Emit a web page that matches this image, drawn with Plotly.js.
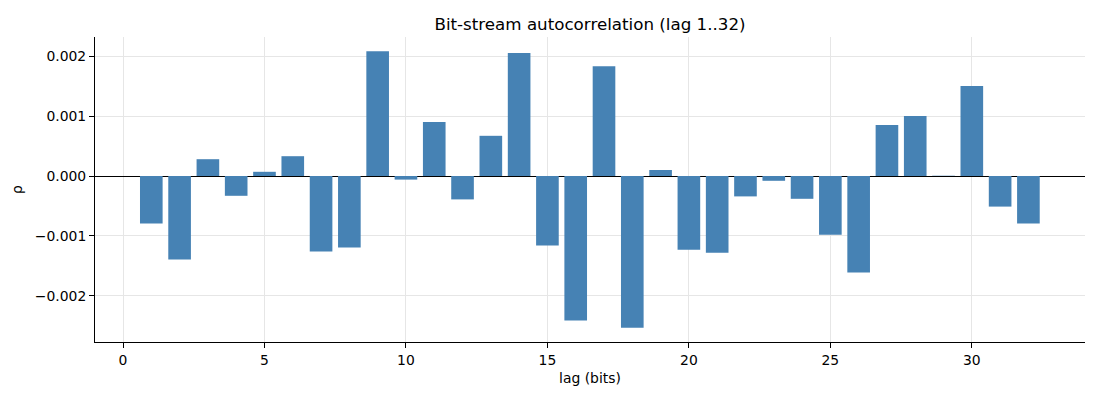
<!DOCTYPE html>
<html>
<head>
<meta charset="utf-8">
<script src="https://cdn.plot.ly/plotly-3.0.1.min.js"></script>
<style>
  html, body { margin: 0; padding: 0; background: #fff; }
  #myDiv { width: 1100px; height: 400px; }
</style>
</head>
<body>
<div id="myDiv"></div>
<script>
// lag in bits, 1..32
var lags = [];
for (var i = 1; i <= 32; i++) { lags.push(i); }

// autocorrelation per lag
var rho = [
    -0.00079, -0.00139, 0.00028, -0.00033, 0.00007, 0.00033, -0.00126, -0.00119,
    0.00208, -0.00006, 0.00090, -0.00039, 0.00067, 0.00205, -0.00116, -0.00241,
    0.00183, -0.00253, 0.00010, -0.00123, -0.00128, -0.00034, -0.00008, -0.00038,
    -0.00098, -0.00161, 0.00085, 0.00100, 0.000005, 0.00150, -0.00051, -0.00079
];

var xTicks = [0, 5, 10, 15, 20, 25, 30];
var yTicks = [-0.002, -0.001, 0, 0.001, 0.002];

var trace1 = {
    x: lags,
    y: rho,
    type: 'bar',
    width: 0.8,
    marker: { color: '#4682b4', line: { width: 0 } },
    hoverinfo: 'x+y'
};

var font = { family: 'DejaVu Sans, sans-serif', size: 13.9, color: '#000' };

var layout = {
    width: 1100,
    height: 400,
    margin: { l: 95, r: 15, t: 37, b: 58 },
    paper_bgcolor: '#fff',
    plot_bgcolor: '#fff',
    font: font,
    showlegend: false,
    // centred over the plot area, like matplotlib
    title: {
        text: 'Bit-stream autocorrelation (lag 1..32)',
        font: { family: 'DejaVu Sans, sans-serif', size: 16.7, color: '#000' },
        xref: 'paper', x: 0.5, xanchor: 'center', y: 0.94, yanchor: 'middle'
    },
    xaxis: {
        range: [-0.99, 34.0],
        tickvals: xTicks,
        ticktext: xTicks.map(String),
        ticks: 'outside', ticklen: 5, tickcolor: '#000', tickwidth: 1,
        showline: true, linecolor: '#000', linewidth: 1,
        showgrid: true, gridcolor: '#e6e6e6', gridwidth: 1,
        zeroline: false,
        title: { text: 'lag (bits)', font: font, standoff: 6 }
    },
    yaxis: {
        range: [-0.002767, 0.002317],
        tickvals: yTicks,
        tickformat: '.3f',
        ticks: 'outside', ticklen: 5, tickcolor: '#000', tickwidth: 1,
        showline: true, linecolor: '#000', linewidth: 1,
        showgrid: true, gridcolor: '#e6e6e6', gridwidth: 1,
        zeroline: true, zerolinecolor: '#000', zerolinewidth: 1,
        title: { text: 'ρ', font: font, standoff: 8 }
    }
};

Plotly.newPlot('myDiv', [trace1], layout, { displayModeBar: false, staticPlot: true });
</script>
</body>
</html>
